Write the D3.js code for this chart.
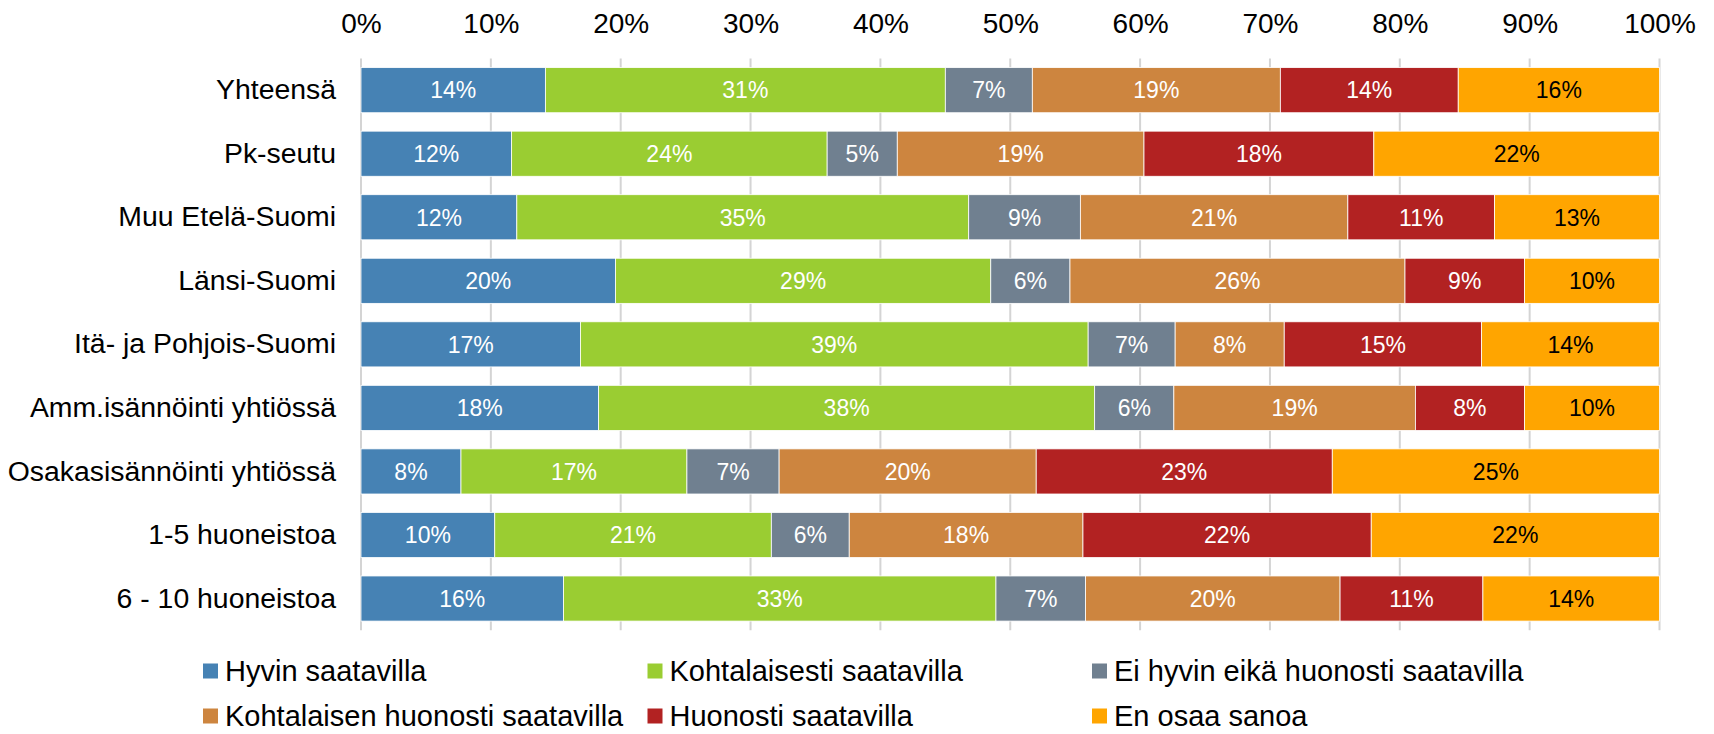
<!DOCTYPE html>
<html>
<head>
<meta charset="utf-8">
<script src="https://cdn.jsdelivr.net/npm/d3@7"></script>
<style>
  html, body { margin: 0; padding: 0; background: #fff; }
  svg text { font-family: "Liberation Sans", Arial, sans-serif; }
</style>
</head>
<body>
<div id="chart"></div>
<script>
// categories, top to bottom
const categories = [
  "Yhteensä",
  "Pk-seutu",
  "Muu Etelä-Suomi",
  "Länsi-Suomi",
  "Itä- ja Pohjois-Suomi",
  "Amm.isännöinti yhtiössä",
  "Osakasisännöinti yhtiössä",
  "1-5 huoneistoa",
  "6 - 10 huoneistoa"
];

const seriesNames = [
  "Hyvin saatavilla",
  "Kohtalaisesti saatavilla",
  "Ei hyvin eikä huonosti saatavilla",
  "Kohtalaisen huonosti saatavilla",
  "Huonosti saatavilla",
  "En osaa sanoa"
];

// percent values per series, one per category
const hyvin        = [14.2, 11.6, 12.0, 19.6, 16.9, 18.3,  7.7, 10.3, 15.6];
const kohtalaisesti = [30.8, 24.3, 34.8, 28.9, 39.1, 38.2, 17.4, 21.3, 33.3];
const eiHyvin      = [ 6.7,  5.4,  8.6,  6.1,  6.7,  6.1,  7.1,  6.0,  6.9];
const kohtHuonosti = [19.1, 19.0, 20.6, 25.8,  8.4, 18.6, 19.8, 18.0, 19.6];
const huonosti     = [13.7, 17.7, 11.3,  9.2, 15.2,  8.4, 22.8, 22.2, 11.0];
const enOsaa       = [15.5, 22.0, 12.7, 10.4, 13.7, 10.4, 25.2, 22.2, 13.6];

const tickValues = [0, 10, 20, 30, 40, 50, 60, 70, 80, 90, 100];

const colors = ["#4682b4", "#9acd32", "#708090", "#cd853f", "#b22222", "#ffa500"];
const labelColors = ["#fff", "#fff", "#fff", "#fff", "#fff", "#000"];

const width = 1714, height = 734;
const font = '"Liberation Sans", Arial, sans-serif';

const svg = d3.select("#chart").append("svg")
  .attr("width", width)
  .attr("height", height);

const x = d3.scaleLinear().domain([0, 100]).range([361, 1659.5]);
const y = d3.scaleBand().domain(categories).range([58.4, 630.3])
  .paddingInner(0.29).paddingOuter(0.145);

// build rows for the stack
const allSeries = [hyvin, kohtalaisesti, eiHyvin, kohtHuonosti, huonosti, enOsaa];
const rows = categories.map((c, i) => {
  const r = { cat: c };
  seriesNames.forEach((s, j) => r[s] = allSeries[j][i]);
  return r;
});
const stacked = d3.stack().keys(seriesNames)(rows);

// gridlines
svg.append("g")
  .selectAll("line")
  .data(tickValues)
  .join("line")
  .attr("x1", d => x(d)).attr("x2", d => x(d))
  .attr("y1", y.range()[0]).attr("y2", y.range()[1])
  .attr("stroke", "#d4d4d4")
  .attr("stroke-width", 2);

// tick labels on top
const xAxis = svg.append("g")
  .attr("transform", "translate(0,33)")
  .call(d3.axisTop(x).tickValues(tickValues).tickSize(0).tickPadding(0).tickFormat(d => d + "%"));
xAxis.select(".domain").remove();
xAxis.selectAll("text")
  .attr("y", 0).attr("dy", 0)
  .attr("font-family", font).attr("font-size", 28).attr("fill", "#000");

// category labels
const yAxis = svg.append("g")
  .attr("transform", `translate(${x(0)},0)`)
  .call(d3.axisLeft(y).tickSize(0).tickPadding(25));
yAxis.select(".domain").remove();
yAxis.selectAll("text")
  .attr("font-family", font).attr("font-size", 28.4).attr("fill", "#000");

// bars
const layers = svg.append("g")
  .selectAll("g")
  .data(stacked)
  .join("g")
  .attr("fill", (d, i) => colors[i]);

layers.selectAll("rect")
  .data(d => d)
  .join("rect")
  .attr("x", d => x(d[0]))
  .attr("width", d => x(d[1]) - x(d[0]))
  .attr("y", d => y(d.data.cat))
  .attr("height", y.bandwidth())
  .attr("stroke", "#fff")
  .attr("stroke-width", 0.8);

// value labels
layers.each(function (layer, i) {
  d3.select(this).selectAll("text")
    .data(layer)
    .join("text")
    .attr("x", d => (x(d[0]) + x(d[1])) / 2)
    .attr("y", d => y(d.data.cat) + y.bandwidth() / 2)
    .attr("dy", "0.36em")
    .attr("text-anchor", "middle")
    .attr("font-family", font)
    .attr("font-size", 23)
    .attr("fill", labelColors[i])
    .text(d => Math.round(d[1] - d[0]) + "%");
});

// legend: 3 columns, 2 rows
const legendX = [203, 647.5, 1092];
const legendY = [671, 716];
const legend = svg.append("g")
  .selectAll("g")
  .data(seriesNames)
  .join("g")
  .attr("transform", (d, i) => `translate(${legendX[i % 3]},${legendY[Math.floor(i / 3)]})`);

legend.append("rect")
  .attr("x", 0).attr("y", -7.5)
  .attr("width", 15).attr("height", 15)
  .attr("fill", (d, i) => colors[i]);

legend.append("text")
  .attr("x", 22)
  .attr("dy", "0.35em")
  .attr("font-family", font)
  .attr("font-size", 29)
  .attr("fill", "#000")
  .text(d => d);
</script>
</body>
</html>
